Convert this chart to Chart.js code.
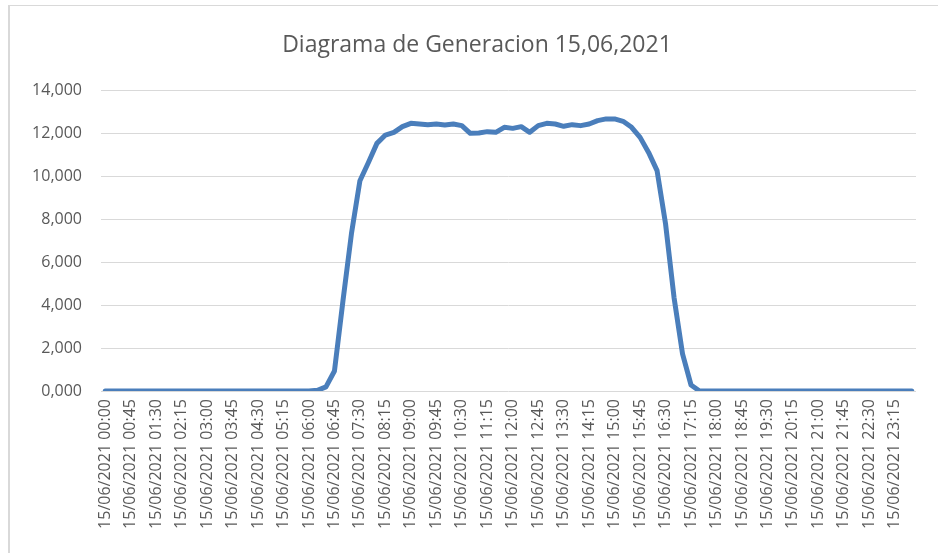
<!DOCTYPE html>
<html>
<head>
<meta charset="utf-8">
<script src="https://cdn.jsdelivr.net/npm/chart.js@4.4.1/dist/chart.umd.min.js"></script>
<style>
  html, body { margin: 0; padding: 0; background: #fff; overflow: hidden; }
  #frame {
    position: absolute; left: 8px; top: 5px; right: 0; bottom: 0;
    border-left: 2px solid #d9d9d9; border-top: 1px solid #d9d9d9;
  }
  #chart { display: block; }
</style>
</head>
<body>
<div id="frame">
  <canvas id="chart" width="928" height="547"></canvas>
</div>
<script>
// 15-minute readings for 15/06/2021, 00:00 .. 23:45
const day = "15/06/2021";
const times = [];
for (let h = 0; h < 24; h++) {
  for (let m = 0; m < 60; m += 15) {
    times.push(day + " " + String(h).padStart(2, "0") + ":" + String(m).padStart(2, "0"));
  }
}

const generation = [
  0, 0, 0, 0, 0, 0, 0, 0, 0, 0, 0, 0,             // 00:00 - 02:45
  0, 0, 0, 0, 0, 0, 0, 0, 0, 0, 0, 0,             // 03:00 - 05:45
  0, 30, 190, 930, 4200, 7330, 9800, 10650,       // 06:00 - 07:45
  11540, 11930, 12055, 12320, 12475, 12445, 12413, 12445, // 08:00 - 09:45
  12400, 12445, 12367, 12010, 12025, 12087, 12056, 12290, // 10:00 - 11:45
  12240, 12320, 12056, 12367, 12475, 12445, 12336, 12413, // 12:00 - 13:45
  12367, 12445, 12600, 12680, 12680, 12570, 12290, 11820, // 14:00 - 15:45
  11120, 10270, 7790, 4355, 1727, 280, 0, 0,      // 16:00 - 17:45
  0, 0, 0, 0, 0, 0, 0, 0, 0, 0, 0, 0,             // 18:00 - 20:45
  0, 0, 0, 0, 0, 0, 0, 0, 0, 0, 0, 0              // 21:00 - 23:45
];

const yTicks = [0, 2000, 4000, 6000, 8000, 10000, 12000, 14000];

const textColor = "#595959";
const gridColor = "#d9d9d9";
const lineColor = "#4A7EBB";

new Chart(document.getElementById("chart"), {
  type: "line",
  data: {
    labels: times,
    datasets: [
      {
        label: "Generacion",
        data: generation,
        yAxisID: "y",
        borderColor: lineColor,
        borderWidth: 5,
        borderJoinStyle: "round",
        borderCapStyle: "round",
        pointRadius: 0,
        tension: 0,
        fill: false,
      },
    ],
  },
  options: {
    responsive: false,
    animation: false,
    layout: { padding: { left: 6, right: 0, top: 0, bottom: 0 } },
    plugins: {
      legend: { display: false },
      tooltip: { enabled: false },
      title: {
        display: true,
        text: "Diagrama de Generacion 15,06,2021",
        color: textColor,
        font: { family: "'Open Sans'", size: 23, weight: "normal" },
        padding: { top: 26, bottom: 31 },
      },
    },
    scales: {
      x: {
        offset: true,
        grid: { display: false, drawTicks: false },
        border: { display: false },
        ticks: {
          autoSkip: false,
          maxRotation: 90,
          minRotation: 90,
          padding: 8,
          color: textColor,
          font: { family: "'Open Sans'", size: 16 },
          callback: (value, index) => (index % 3 === 0 ? times[index] : null),
        },
        afterFit: (scale) => { scale.height = 162; },
      },
      y: {
        position: "left",
        min: yTicks[0],
        max: yTicks[yTicks.length - 1],
        grid: { color: gridColor, lineWidth: 1, drawTicks: false },
        border: { display: false },
        afterBuildTicks: (scale) => { scale.ticks = yTicks.map((v) => ({ value: v })); },
        ticks: {
          padding: 19,
          color: textColor,
          font: { family: "'Open Sans'", size: 16 },
          callback: (v) => (v / 1000).toFixed(3).replace(".", ","),
        },
        afterFit: (scale) => { scale.width = 85; },
      },
      // empty right-hand axis, only reserves the margin right of the plot
      gutter: {
        position: "right",
        grid: { display: false, drawTicks: false },
        border: { display: false },
        ticks: { display: false },
        afterFit: (scale) => { scale.width = 22; },
      },
    },
  },
});
</script>
</body>
</html>
